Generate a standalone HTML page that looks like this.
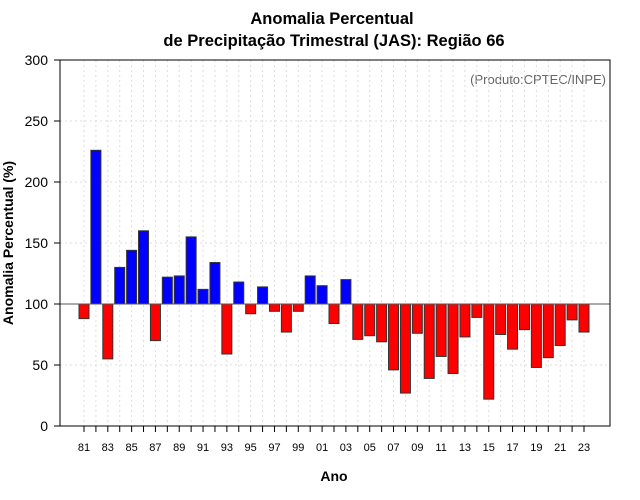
<!DOCTYPE html>
<html><head><meta charset="utf-8"><style>body{margin:0;background:#fff}svg{display:block;font-family:"Liberation Sans",sans-serif}</style></head>
<body>
<svg id="c" width="640" height="500">
<text x="332" y="24" text-anchor="middle" font-size="16.5" font-weight="bold">Anomalia Percentual</text>
<text x="334" y="46" text-anchor="middle" font-size="16.5" font-weight="bold">de Precipitação Trimestral (JAS): Região 66</text>
<text x="606" y="84" text-anchor="end" font-size="13" fill="#666">(Produto:CPTEC/INPE)</text>
<text x="334" y="481" text-anchor="middle" font-size="14" font-weight="bold">Ano</text>
<text transform="translate(13,243) rotate(-90)" text-anchor="middle" font-size="14" font-weight="bold">Anomalia Percentual (%)</text>
<g id="grid"></g><g id="bars"></g><g id="axes"></g>
</svg>
<script>
const years=[81,82,83,84,85,86,87,88,89,90,91,92,93,94,95,96,97,98,99,0,1,2,3,4,5,6,7,8,9,10,11,12,13,14,15,16,17,18,19,20,21,22,23];
const values=[88,226,55,130,144,160,70,122,123,155,112,134,59,118,92,114,94,77,94,123,115,84,120,71,74,69,46,27,76,39,57,43,73,89,22,75,63,79,48,56,66,87,77];
const yTicks=[0,50,100,150,200,250,300];
const NS='http://www.w3.org/2000/svg';
const L=60,R=610,T=60,B=426;
const y=v=>B-(v/300)*(B-T);
const x=i=>84+i*(500/42);
function mk(t,a,p){const e=document.createElementNS(NS,t);for(const k in a)e.setAttribute(k,a[k]);p.appendChild(e);return e;}
const g=document.getElementById('grid'),b=document.getElementById('bars'),ax=document.getElementById('axes');
yTicks.forEach(v=>{
 const l=mk('line',{x1:L,x2:R,y1:y(v),y2:y(v),stroke:'#ddd','stroke-dasharray':'2,3'},g);
 
 
 mk('line',{x1:L-6,x2:L,y1:y(v),y2:y(v),stroke:'#000'},ax);
 const t=mk('text',{x:L-12,y:y(v)+5,'text-anchor':'end','font-size':14},ax);t.textContent=v;
 
 
});
years.forEach((yr,i)=>{
 const gl=mk('line',{x1:x(i),x2:x(i),y1:T,y2:B,stroke:'#ddd','stroke-dasharray':'2,3'},g);
 
 
 mk('line',{x1:x(i),x2:x(i),y1:B,y2:B+6,stroke:'#000'},ax);
 if(i%2==0){const t=mk('text',{x:x(i),y:B+25,'text-anchor':'middle','font-size':11},ax);t.textContent=String(yr).padStart(2,'0');
 
 }
 const v=values[i];
 const r=mk('rect',{x:x(i)-5,width:10,y:Math.min(y(v),y(100)),height:Math.abs(y(v)-y(100)),fill:v>=100?'#0000ff':'#ff0000',stroke:'#333','stroke-width':1},b);
 
 
});
const base=mk('line',{x1:L,x2:R,y1:y(100),y2:y(100),stroke:'#555'},ax);


const fr=mk('rect',{x:L,y:T,width:R-L,height:B-T,fill:'none',stroke:'#000'},ax);


</script>
</body></html>
